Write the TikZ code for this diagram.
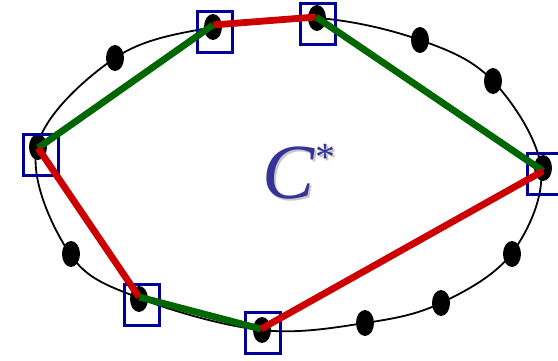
\documentclass[tikz,border=0pt]{standalone}
\usepackage{fontspec}
\setmainfont{Liberation Serif}
\usetikzlibrary{shapes.geometric}
\definecolor{grn}{HTML}{006600}
\definecolor{rd}{HTML}{CC0000}
\definecolor{bx}{HTML}{000099}
\definecolor{txtblue}{HTML}{333399}
\newcommand{\shadowtxt}[1]{{\color{black!22}\rlap{\hspace{2.5pt}\raisebox{-2.5pt}{#1}}}#1}
\tikzset{
  dot/.style={ellipse,fill=black,minimum width=18pt,minimum height=26pt,inner sep=0pt},
  selbox/.style={draw=bx,line width=2.8pt,minimum width=35pt,minimum height=41pt,inner sep=0pt},
  grnline/.style={grn,line width=6.8pt},
  redline/.style={rd,line width=6.8pt},
  hull/.style={black,line width=1.8pt}
}
\begin{document}
\begin{tikzpicture}[x=1pt,y=-1pt]
\useasboundingbox (0,0) rectangle (558,361);
\draw[hull] plot[smooth cycle,tension=0.6] coordinates {(213,27) (316,18) (420,40) (493,81) (541,168) (512,253) (441,303) (365,323) (261,330) (139,298) (70,254) (37,147) (115,58)};
\node[dot] (p1) at (213,27) {};
\node[dot] (p2) at (317,18) {};
\node[dot] (p3) at (420,40) {};
\node[dot] (p4) at (493,81) {};
\node[dot] (p5) at (543,168) {};
\node[dot] (p6) at (512,254) {};
\node[dot] (p7) at (441,303) {};
\node[dot] (p8) at (365,323) {};
\node[dot] (p9) at (262,330) {};
\node[dot] (p10) at (139,299) {};
\node[dot] (p11) at (71,254) {};
\node[dot] (p12) at (38,147) {};
\node[dot] (p13) at (115,58) {};
\node[selbox] (b1) at (215,32) {};
\node[selbox] (b2) at (318,24) {};
\node[selbox] (b5) at (545,174) {};
\node[selbox] (b9) at (263,333) {};
\node[selbox] (b10) at (142,305) {};
\node[selbox] (b12) at (41,155) {};
\coordinate (c1) at (213,25);
\coordinate (c2) at (316,17);
\coordinate (c5) at (543,171);
\coordinate (c9) at (261,329);
\coordinate (c10) at (139,297);
\coordinate (c12) at (38,148);
\draw[redline] (c1) -- (c2);
\draw[grnline] (c2) -- (c5);
\draw[grnline] (c12) -- (c1);
\draw[redline] (c12) -- (c10);
\draw[grnline] (c10) -- (c9);
\draw[redline] (c9) -- (c5);
\node[text=txtblue,font=\fontsize{78}{78}\selectfont\itshape,anchor=base west,inner sep=0pt] (c) at (262,198)
  {\shadowtxt{C}\hspace{1pt}\raisebox{28pt}{\fontsize{40}{40}\selectfont\upshape\shadowtxt{*}}};
\end{tikzpicture}
\end{document}
